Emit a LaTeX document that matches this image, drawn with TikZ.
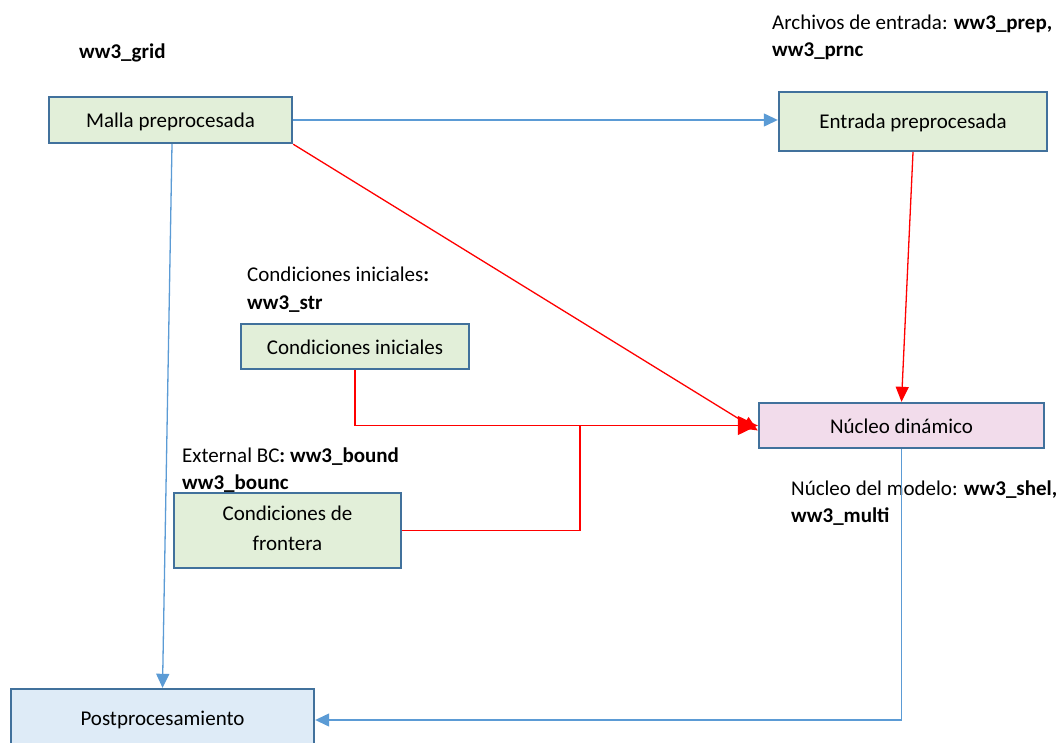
\documentclass[tikz,border=0pt]{standalone}
\usepackage{fontspec}
\setmainfont{Carlito}
\usetikzlibrary{arrows.meta}
\definecolor{boxedge}{HTML}{41719C}
\definecolor{greenfill}{HTML}{E2EFD9}
\definecolor{pinkfill}{HTML}{F2DCEB}
\definecolor{bluefill}{HTML}{DEEBF7}
\definecolor{flowblue}{HTML}{5B9BD5}
\definecolor{flowred}{HTML}{FF0000}
\begin{document}
\begin{tikzpicture}[x=1pt,y=-1pt,
  every node/.style={font=\fontsize{21}{28}\selectfont},
  box/.style={draw=boxedge, line width=2.4pt, inner sep=0pt, align=center, text height=16pt, text depth=1pt},
  lbl/.style={anchor=base west, inner sep=0pt},
  blueflow/.style={draw=flowblue, line width=1.3pt, -{Triangle[length=14pt,width=13pt]}},
  redflow/.style={draw=flowred, line width=1.3pt, -{Triangle[length=15pt,width=13pt]}},
  redbig/.style={draw=flowred, line width=1.3pt, -{Triangle[length=20pt,width=19pt]}},
  redline/.style={draw=flowred, line width=1.3pt}]
\useasboundingbox (0,0) rectangle (1063,743);
\clip (0,0) rectangle (1063,743);

% processing blocks
\node[box, fill=greenfill, minimum width=243pt, minimum height=46pt] (malla) at (170.5,120) {Malla preprocesada};
\node[box, fill=greenfill, minimum width=268pt, minimum height=59pt] (entrada) at (913,121.5) {Entrada preprocesada};
\node[box, fill=greenfill, minimum width=228pt, minimum height=45pt] (inic) at (355,346.5) {Condiciones iniciales};
\node[box, fill=pinkfill, minimum width=285pt, minimum height=45pt] (nucleo) at (901.5,425.5) {Núcleo dinámico};
\node[box, fill=greenfill, minimum width=227pt, minimum height=75pt, text height=39pt, text depth=0pt, font=\fontsize{21}{30}\selectfont] (frontera) at (287.5,530.5) {Condiciones de\\frontera};
\node[box, fill=bluefill, minimum width=303pt, minimum height=58pt] (post) at (162.5,718) {Postprocesamiento};

% program labels
\node[lbl] (gridlbl) at (79,59) {\textbf{ww3\_grid}};
\node[lbl] (preplbl) at (772,30) {Archivos de entrada: \textbf{ww3\_prep,}};
\node[lbl] (prnclbl) at (772,57) {\textbf{ww3\_prnc}};
\node[lbl] (strlbl) at (247,282) {Condiciones iniciales\textbf{:}};
\node[lbl] (strlbl2) at (247,309) {\textbf{ww3\_str}};
\node[lbl] (boundlbl) at (182,462) {External BC\textbf{: ww3\_bound}};
\node[lbl] (bounclbl) at (182,489) {\textbf{ww3\_bounc}};
\node[lbl] (shellbl) at (791,495) {Núcleo del modelo: \textbf{ww3\_shel,}};
\node[lbl] (multilbl) at (791,522) {\textbf{ww3\_multi}};

% junction of the boundary-condition branch
\coordinate (join) at (580,425.5);

% blue data flow
\draw[blueflow] (malla.east) -- (malla.east -| entrada.west);
\draw[blueflow] ([xshift=1.5pt]malla.south) -- (post.north);
\draw[blueflow] (nucleo.south) |- ([yshift=-2pt]post.east);

% red forcing flow into the core
\draw[redflow] (entrada.south) -- (nucleo.north);
\draw[redflow] (malla.south east) -- ([yshift=-5pt]nucleo.west);
\draw[redbig] (inic.south) |- (nucleo.west);
\draw[redline] (frontera.east) -| (join);
\end{tikzpicture}
\end{document}
